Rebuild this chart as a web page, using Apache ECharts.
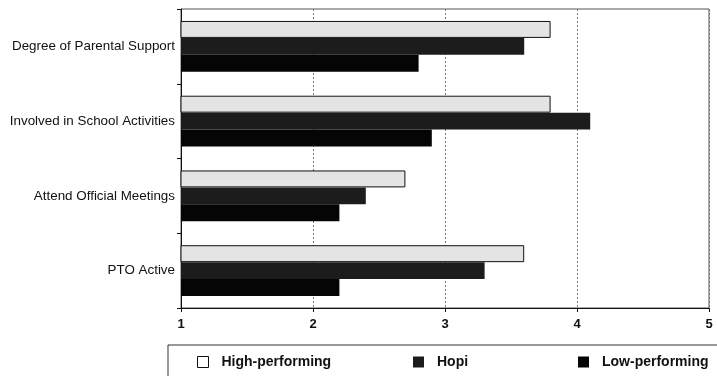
<!DOCTYPE html>
<html>
<head>
<meta charset="utf-8">
<script src="https://cdn.jsdelivr.net/npm/echarts@6/dist/echarts.min.js"></script>
<style>
  html, body { margin: 0; padding: 0; background: #fff; }
  #chart { width: 717px; height: 376px; }
</style>
</head>
<body>
<div id="chart"></div>
<script>
var categories = ["Degree of Parental Support", "Involved in School Activities", "Attend Official Meetings", "PTO Active"];
var highPerforming = [3.8, 3.8, 2.7, 3.6];
var hopi = [3.6, 4.1, 2.4, 3.3];
var lowPerforming = [2.8, 2.9, 2.2, 2.2];
var xTicks = [1, 2, 3, 4, 5];

var chart = echarts.init(document.getElementById("chart"), null, { renderer: "canvas" });

// one legend per entry so each sits where it does in the original
function legendAt(name, left, iconStyle) {
  return {
    top: 355,
    left: left,
    padding: 0,
    itemWidth: 11,
    itemHeight: 11,
    icon: "rect",
    textStyle: { fontSize: 14, fontWeight: "bold", color: "#111", padding: [0, 0, 0, 8], fontFamily: "Liberation Sans, Arial, sans-serif" },
    data: [{ name: name, itemStyle: iconStyle }]
  };
}

var option = {
  animation: false,
  backgroundColor: "#fff",
  textStyle: { fontFamily: "Liberation Sans, Arial, sans-serif" },
  grid: { left: 181, right: 8, top: 9, bottom: 68, show: true, borderColor: "#555", borderWidth: 1 },
  legend: [
    legendAt("High-performing", 197, { color: "#fff", borderColor: "#111", borderWidth: 1 }),
    legendAt("Hopi", 413, { color: "#1c1c1c" }),
    legendAt("Low-performing", 578, { color: "#050505" })
  ],
  graphic: [
    {
      type: "rect",
      shape: { x: 168, y: 345, width: 560, height: 40 },
      style: { fill: "none", stroke: "#333", lineWidth: 1 }
    }
  ],
  xAxis: {
    type: "value",
    min: xTicks[0],
    max: xTicks[xTicks.length - 1],
    interval: 1,
    axisLine: { show: true, lineStyle: { color: "#111" } },
    axisTick: { show: true, length: 4, lineStyle: { color: "#111" } },
    axisLabel: { fontSize: 13, fontWeight: "bold", color: "#111", margin: 10 },
    splitLine: { show: true, lineStyle: { color: "#777", type: [2, 2] } }
  },
  yAxis: {
    type: "category",
    inverse: true,
    data: categories,
    axisLine: { show: true, lineStyle: { color: "#111" } },
    axisTick: { show: true, length: 4, inside: false, lineStyle: { color: "#111" } },
    axisLabel: { fontSize: 13.4, color: "#111", margin: 6 },
    splitLine: { show: false }
  },
  series: [
    {
      name: "High-performing",
      type: "bar",
      data: highPerforming,
      barGap: "0%",
      barCategoryGap: "32%",
      itemStyle: { color: "#e4e4e4", borderColor: "#111", borderWidth: 1 }
    },
    {
      name: "Hopi",
      type: "bar",
      data: hopi,
      itemStyle: { color: "#1c1c1c" }
    },
    {
      name: "Low-performing",
      type: "bar",
      data: lowPerforming,
      itemStyle: { color: "#050505" }
    }
  ]
};

chart.setOption(option);
</script>
</body>
</html>
